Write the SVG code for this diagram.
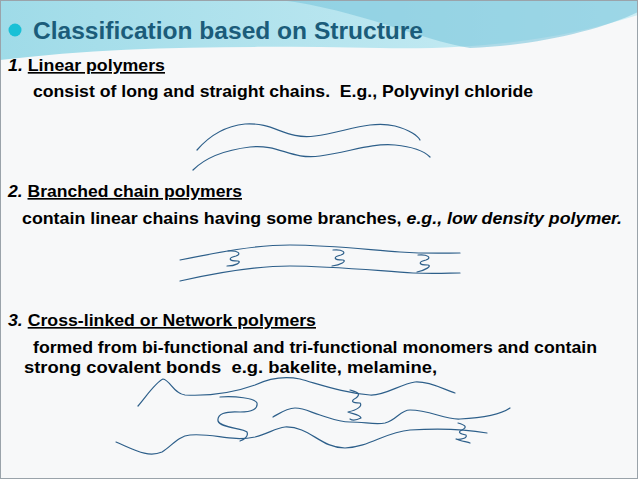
<svg xmlns="http://www.w3.org/2000/svg" width="638" height="479" viewBox="0 0 638 479">
<defs>
<style>
.t{font-family:"Liberation Sans",Arial,sans-serif;font-weight:bold;font-size:16.5px;fill:#000;white-space:pre}
.c{fill:none;stroke:#2d5f8a;stroke-width:1.2;stroke-linecap:round;stroke-linejoin:round}
</style>
<linearGradient id="bg" x1="0" y1="0" x2="1" y2="0"><stop offset="0" stop-color="#9fdbe8"/><stop offset="1" stop-color="#cdeef5"/></linearGradient>
</defs>
<rect width="638" height="479" fill="#f7f8f9"/>
<path d="M0 0H638V15C560 40 480 50 380 48C250 46 120 45 0 60Z" fill="url(#bg)"/>
<path d="M280 0C360 10 420 40 470 48C540 45 600 30 638 12V0Z" fill="#7cc7dc" opacity="0.6"/>
<rect x="0.5" y="0.5" width="637" height="478" fill="none" stroke="#9aa3aa"/>
<g id="title">
<circle cx="15" cy="30" r="6.5" fill="#19c0d6"/>
<text x="33" y="39" font-family="'Liberation Sans',Arial,sans-serif" font-weight="bold" font-size="23" fill="#1b5c7a" textLength="390" lengthAdjust="spacingAndGlyphs">Classification based on Structure</text>
</g>
<g id="linear">
<text x="8" y="71" class="t" textLength="157" lengthAdjust="spacingAndGlyphs"><tspan font-style="italic">1.</tspan> <tspan text-decoration="underline">Linear polymers</tspan></text>
<text x="33" y="97" class="t" textLength="500" lengthAdjust="spacingAndGlyphs">consist of long and straight chains.  E.g., Polyvinyl chloride</text>
<path class="c" d="M197 150C210 135 225 126 245 124C275 122 285 140 315 136C345 132 370 120 395 126C410 130 418 136 420 140"/>
<path class="c" d="M193 170C205 158 225 150 250 147C280 144 290 160 320 156C350 152 370 143 395 145C415 147 425 152 430 157"/>
</g>
<g id="branched">
<text x="8" y="197" class="t" textLength="234" lengthAdjust="spacingAndGlyphs"><tspan font-style="italic">2.</tspan> <tspan text-decoration="underline">Branched chain polymers</tspan></text>
<text x="22" y="224" class="t" textLength="600" lengthAdjust="spacingAndGlyphs">contain linear chains having some branches, <tspan font-style="italic">e.g., low density polymer.</tspan></text>
<path class="c" d="M180 260C220 252 255 245 290 245C330 245 370 250 400 252C430 254 445 253 460 253"/>
<path class="c" d="M180 281C220 272 255 266 290 266C330 266 380 271 413 273C435 274 450 273 460 273"/>
<path class="c" d="M228 251C238 250 242 254 236 256C228 258 228 261 238 261C242 262 236 266 227 266"/>
<path class="c" d="M333 250C343 249 347 253 341 255C333 257 333 260 343 260C347 261 341 265 332 266"/>
<path class="c" d="M418 255C428 254 432 258 426 260C418 262 418 265 428 265C432 266 426 270 417 272"/>
</g>
<g id="network">
<text x="8" y="326" class="t" textLength="308" lengthAdjust="spacingAndGlyphs"><tspan font-style="italic">3.</tspan> <tspan text-decoration="underline">Cross-linked or Network polymers</tspan></text>
<text x="33" y="353" class="t" textLength="564" lengthAdjust="spacingAndGlyphs">formed from bi-functional and tri-functional monomers and contain</text>
<text x="24" y="373" class="t" textLength="413" lengthAdjust="spacingAndGlyphs">strong covalent bonds  e.g. bakelite, melamine,</text>
<path class="c" d="M138 406C148 394 156 382 163 379C170 380 174 394 185 395C205 396 230 394 255 385C270 378 285 376 300 379C325 386 345 393 370 395C385 396 400 384 415 382C430 381 445 390 455 393"/>
<path class="c" d="M116 442C135 450 148 458 162 452C172 446 178 436 190 435C215 433 230 442 255 437C268 434 275 428 285 427C310 426 320 448 345 448C370 447 385 432 410 430C440 428 470 430 487 433"/>
<path class="c" d="M220 397C235 396 255 398 257 403C258 409 252 412 240 412C225 411 217 414 218 421C220 428 243 428 247 432C249 437 243 440 240 441"/>
<path class="c" d="M273 417C280 413 287 408 295 408C305 408 312 413 320 415C330 418 338 422 350 422C365 422 375 425 385 423C397 420 400 410 410 410C430 410 445 420 460 419C480 418 500 415 510 408"/>
<path class="c" d="M350 390C356 392 362 393 356 398C350 401 352 403 360 403C363 406 357 410 348 412C352 414 360 414 361 418C357 420 353 421 350 419"/>
<path class="c" d="M458 423C465 425 468 427 462 430C457 432 460 434 466 435C468 438 460 440 456 439C460 441 468 442 470 443"/>
</g>
</svg>
